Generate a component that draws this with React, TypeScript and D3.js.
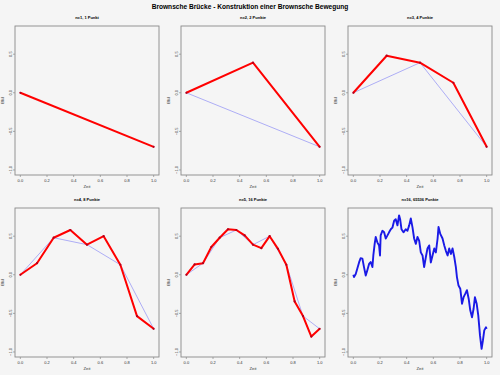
import React, { useEffect, useRef } from 'react';
import * as d3 from 'd3';

// Werte an den Stützstellen t = k / 2^(n-1)
const level1 = [0, -0.70];
const level2 = [0, 0.39, -0.70];
const level3 = [0, 0.48, 0.39, 0.13, -0.70];
const level4 = [0, 0.15, 0.48, 0.58, 0.39, 0.50, 0.13, -0.535, -0.70];
const level5 = [0, 0.134, 0.15, 0.36, 0.48, 0.59, 0.58, 0.51, 0.39, 0.345, 0.50, 0.336, 0.13, -0.345, -0.535, -0.80, -0.70];

// feiner Pfad (n=16)
const fineTimes = [0, 0.005, 0.018, 0.030, 0.043, 0.055, 0.068, 0.080, 0.093, 0.105, 0.118, 0.130, 0.143, 0.150, 0.160, 0.168, 0.180, 0.193, 0.200, 0.205, 0.218, 0.231, 0.243, 0.256, 0.268, 0.281, 0.293, 0.306, 0.318, 0.331, 0.343, 0.351, 0.361, 0.376, 0.393, 0.406, 0.419, 0.431, 0.444, 0.456, 0.469, 0.481, 0.494, 0.506, 0.519, 0.531, 0.544, 0.556, 0.569, 0.581, 0.594, 0.607, 0.619, 0.632, 0.639, 0.652, 0.669, 0.682, 0.694, 0.707, 0.719, 0.732, 0.744, 0.757, 0.769, 0.777, 0.789, 0.802, 0.815, 0.827, 0.840, 0.852, 0.865, 0.877, 0.890, 0.902, 0.912, 0.925, 0.937, 0.950, 0.962, 0.972, 0.982, 0.995, 1.000];
const fineValues = [0, -0.03, 0.01, 0.08, 0.16, 0.215, 0.21, 0.10, -0.01, 0.06, 0.14, 0.165, 0.10, 0.25, 0.40, 0.49, 0.42, 0.38, 0.25, 0.51, 0.57, 0.55, 0.47, 0.51, 0.55, 0.59, 0.61, 0.70, 0.72, 0.64, 0.77, 0.72, 0.59, 0.55, 0.59, 0.57, 0.64, 0.73, 0.61, 0.47, 0.40, 0.49, 0.44, 0.29, 0.25, 0.10, 0.23, 0.34, 0.38, 0.16, 0.25, 0.34, 0.29, 0.47, 0.62, 0.53, 0.47, 0.38, 0.31, 0.25, 0.34, 0.27, 0.34, 0.23, 0.10, -0.03, -0.14, -0.18, -0.375, -0.29, -0.245, -0.20, -0.31, -0.46, -0.55, -0.44, -0.29, -0.375, -0.525, -0.785, -0.96, -0.85, -0.72, -0.68, -0.70];

const titles = ['n=1, 1 Punkt', 'n=2, 2 Punkte', 'n=3, 4 Punkte', 'n=4, 8 Punkte', 'n=5, 16 Punkte', 'n=16, 65536 Punkte'];
const xTicks = [0, 0.2, 0.4, 0.6, 0.8, 1.0];
const yTicks = [-1.0, -0.5, 0.0, 0.5];

const asPoints = (vals: number[]) => vals.map((v, i) => [i / (vals.length - 1), v] as [number, number]);

const App: React.FC = () => {
  const svgRef = useRef<SVGSVGElement>(null);

  useEffect(() => {
    if (!svgRef.current) return;
    const svg = d3.select(svgRef.current);
    svg.selectAll('*').remove();

    const font = "'Liberation Sans', Arial, sans-serif";
    svg.append('rect').attr('width', 500).attr('height', 375).attr('fill', '#f5f5f5');

    svg.append('text')
      .attr('x', 250).attr('y', 8.5)
      .attr('text-anchor', 'middle')
      .style('font-family', font).style('font-size', '6.6px').style('font-weight', 'bold')
      .text('Brownsche Brücke - Konstruktion einer Brownsche Bewegung');

    const colX = [15, 181, 348];
    const rowY = [26, 208];
    const pw = 144;
    const ph = 149;

    const x = d3.scaleLinear().domain([-0.04, 1.04]).range([0, pw]);
    const y = d3.scaleLinear().domain([-1.065, 0.865]).range([ph, 0]);
    const line = d3.line<[number, number]>().x(d => x(d[0])).y(d => y(d[1]));

    const panels = [
      { red: level1, blue: null as number[] | null },
      { red: level2, blue: level1 },
      { red: level3, blue: level2 },
      { red: level4, blue: level3 },
      { red: level5, blue: level4 },
      { red: null as number[] | null, blue: null as number[] | null },
    ];

    panels.forEach((p, i) => {
      const g = svg.append('g')
        .attr('transform', `translate(${colX[i % 3]},${rowY[Math.floor(i / 3)]})`);

      g.append('text')
        .attr('x', pw / 2).attr('y', -7)
        .attr('text-anchor', 'middle')
        .style('font-family', font).style('font-size', '4px').style('font-weight', 'bold')
        .text(titles[i]);

      // x axis
      xTicks.forEach(t => {
        g.append('line').attr('x1', x(t)).attr('x2', x(t)).attr('y1', ph).attr('y2', ph + 2)
          .attr('stroke', '#777').attr('stroke-width', 0.6);
        g.append('text').attr('x', x(t)).attr('y', ph + 6.5)
          .attr('text-anchor', 'middle')
          .style('font-family', font).style('font-size', '4px').attr('fill', '#333')
          .text(d3.format('.1f')(t));
      });
      // y axis
      yTicks.forEach(v => {
        g.append('line').attr('x1', -2).attr('x2', 0).attr('y1', y(v)).attr('y2', y(v))
          .attr('stroke', '#777').attr('stroke-width', 0.6);
        g.append('text')
          .attr('transform', `translate(-3.5,${y(v)}) rotate(-90)`)
          .attr('text-anchor', 'middle')
          .style('font-family', font).style('font-size', '4px').attr('fill', '#333')
          .text(d3.format('.1f')(v));
      });

      g.append('text').attr('x', pw / 2).attr('y', ph + 13)
        .attr('text-anchor', 'middle')
        .style('font-family', font).style('font-size', '4.2px').attr('fill', '#333')
        .text('Zeit');
      g.append('text')
        .attr('transform', `translate(-11,${ph / 2}) rotate(-90)`)
        .attr('text-anchor', 'middle')
        .style('font-family', font).style('font-size', '4.2px').attr('fill', '#333')
        .text('BM');

      g.append('rect').attr('width', pw).attr('height', ph)
        .attr('fill', 'none').attr('stroke', '#8a8a8a').attr('stroke-width', 0.9);

      if (p.blue) {
        g.append('path').attr('d', line(asPoints(p.blue)) || '')
          .attr('fill', 'none').attr('stroke', '#9a9af5').attr('stroke-width', 0.8);
      }
      if (p.red) {
        const pts = asPoints(p.red);
        g.append('path').attr('d', line(pts) || '')
          .attr('fill', 'none').attr('stroke', '#ff0000').attr('stroke-width', 2)
          .attr('stroke-linejoin', 'round');
        g.selectAll('circle.pt').data(pts).enter().append('circle')
          .attr('class', 'pt')
          .attr('cx', d => x(d[0])).attr('cy', d => y(d[1])).attr('r', 1.1)
          .attr('fill', '#b00020');
      } else {
        const pts = fineTimes.map((t, k) => [t, fineValues[k]] as [number, number]);
        g.append('path').attr('d', line(pts) || '')
          .attr('fill', 'none').attr('stroke', '#1a1ae6').attr('stroke-width', 1.9)
          .attr('stroke-linejoin', 'round');
      }
    });
  }, []);

  return (
    <svg ref={svgRef} width={500} height={375}
      style={{ position: 'absolute', left: 0, top: 0, display: 'block' }} />
  );
};

export default App;
